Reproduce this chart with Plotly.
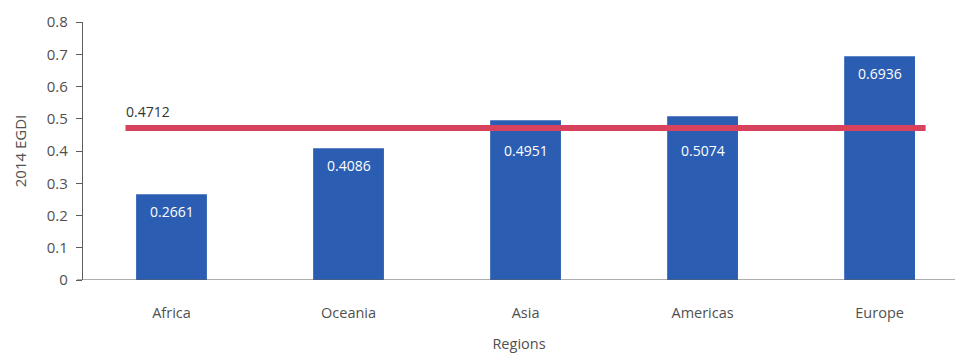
import plotly.graph_objects as go

# EGDI 2014 by region
regions = ["Africa", "Oceania", "Asia", "Americas", "Europe"]
egdi = [0.2661, 0.4086, 0.4951, 0.5074, 0.6936]
world_avg = 0.4712
y_ticks = [0, 0.1, 0.2, 0.3, 0.4, 0.5, 0.6, 0.7, 0.8]
y_tick_text = ["0", "0.1", "0.2", "0.3", "0.4", "0.5", "0.6", "0.7", "0.8"]

BAR = "#2b5eb3"
RED = "#d8425d"
TXT = "#505050"
FONT = "Open Sans"

xs = list(range(len(regions)))

fig = go.Figure()
fig.add_trace(go.Bar(
    x=xs, y=egdi, width=0.4, marker=dict(color=BAR, line=dict(width=0)),
    hoverinfo="skip", showlegend=False,
))
fig.add_trace(go.Scatter(
    x=[-0.26, len(regions) - 1 + 0.26], y=[world_avg, world_avg],
    mode="lines", line=dict(color=RED, width=6), hoverinfo="skip", showlegend=False,
))

# value labels at the top inside each bar; those close to the average line go below it
for x, v in zip(xs, egdi):
    near_line = abs(v - world_avg) < 0.05
    fig.add_annotation(
        x=x, y=min(v, world_avg) if near_line else v, xref="x", yref="y",
        text=f"{v:.4f}", showarrow=False, yanchor="middle",
        yshift=-22 if near_line else -17,
        font=dict(family=FONT, size=14, color="white"),
    )

fig.add_annotation(
    x=-0.27, y=world_avg, xref="x", yref="y", text=f"{world_avg:.4f}",
    showarrow=False, xanchor="left", yanchor="bottom", yshift=5,
    font=dict(family=FONT, size=14, color="#333333"),
)

# x axis baseline extends past the y axis by the tick length
fig.add_shape(type="line", xref="paper", yref="y", x0=-6 / 872, x1=1, y0=0, y1=0,
              line=dict(color="#5e5e5e", width=1.2))

fig.update_layout(
    width=955, height=354,
    margin=dict(l=83, r=0, t=22, b=74),
    paper_bgcolor="white", plot_bgcolor="white",
    font=dict(family=FONT, size=14, color=TXT),
    bargap=0.6,
)
fig.update_xaxes(
    range=[-0.5, 4.426], tickvals=xs, ticktext=regions, showgrid=False,
    zeroline=False, showline=False, ticks="", ticklabelstandoff=22,
    title=dict(text="Regions", standoff=18, font=dict(family=FONT, size=14.5, color=TXT)),
    tickfont=dict(family=FONT, size=14.5, color=TXT),
)
fig.update_yaxes(
    range=[0, 0.8], tickvals=y_ticks, ticktext=y_tick_text, showgrid=False,
    zeroline=False, showline=True, linecolor="#5e5e5e", linewidth=1.2,
    ticks="outside", ticklen=6, tickcolor="#5e5e5e", ticklabelstandoff=5,
    title=dict(text="2014 EGDI", standoff=16, font=dict(family=FONT, size=15, color=TXT)),
    tickfont=dict(family=FONT, size=15, color=TXT),
)

fig.write_html("out.html")
